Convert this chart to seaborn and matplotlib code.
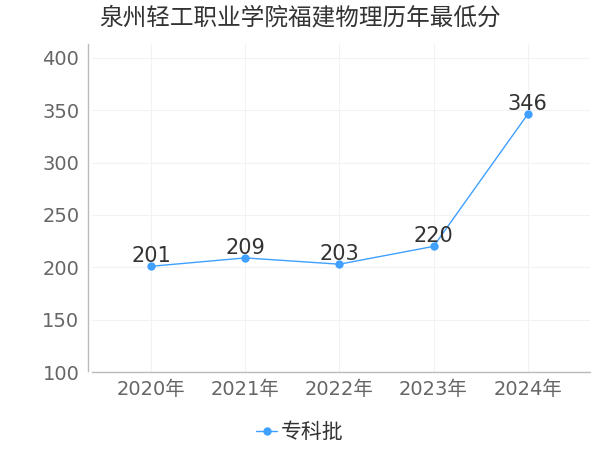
import pandas as pd
import matplotlib
matplotlib.use("Agg")
import matplotlib.pyplot as plt
import seaborn as sns

years = ["2020年", "2021年", "2022年", "2023年", "2024年"]
scores = [201, 209, 203, 220, 346]
series_name = "专科批"
title = "泉州轻工职业学院福建物理历年最低分"

df = pd.DataFrame({"year": years, "score": scores, "batch": series_name})

sns.set_theme(style="white")
plt.rcParams['font.family'] = ['DejaVu Sans', 'Noto Sans CJK SC']
cjk = ['Noto Sans CJK SC', 'DejaVu Sans']

line_color = "#3fa0ff"

fig = plt.figure(figsize=(6, 4.5), dpi=100)
ax = fig.add_axes([0.153, 0.173, 0.830, 0.729])

sns.lineplot(data=df, x="year", y="score", hue="batch", palette=[line_color],
             marker="o", markersize=6, markeredgewidth=0, linewidth=1, ax=ax,
             sort=False)

# value labels above each point
for i, v in enumerate(df["score"]):
    ax.annotate(str(v), (i, v), xytext=(0, 3), textcoords="offset points",
                ha="center", va="baseline", fontsize=15, color="#333333")

ax.set_ylim(100, 413)
ax.set_yticks([100, 150, 200, 250, 300, 350, 400])
ax.set_xlim(-0.63, 4.66)
ax.set_xlabel("")
ax.set_ylabel("")
ax.grid(True, color="#f2f2f2", linewidth=0.8)
ax.tick_params(axis="both", labelsize=14, colors="#666666", length=3, width=0.8, pad=3)
for t in ax.get_xticklines() + ax.get_yticklines():
    t.set_color("#cccccc")
for s in ["top", "right"]:
    ax.spines[s].set_visible(False)
for s in ["left", "bottom"]:
    ax.spines[s].set_color("#bbbbbb")
    ax.spines[s].set_linewidth(1)
ax.spines["left"].set_position(("outward", 3))
ax.spines["left"].set_bounds(101, 413)

ax.get_legend().remove()
handles, labels = ax.get_legend_handles_labels()
fig.legend(handles, labels, loc="center", bbox_to_anchor=(0.5, 0.04), frameon=False,
           prop={"family": cjk, "size": 15}, handlelength=1.0, handletextpad=0.2,
           labelcolor="#333333")

fig.suptitle(title, x=0.5, y=0.985, fontsize=17, color="#333333", family=cjk)

fig.savefig("out.png", dpi=100)
